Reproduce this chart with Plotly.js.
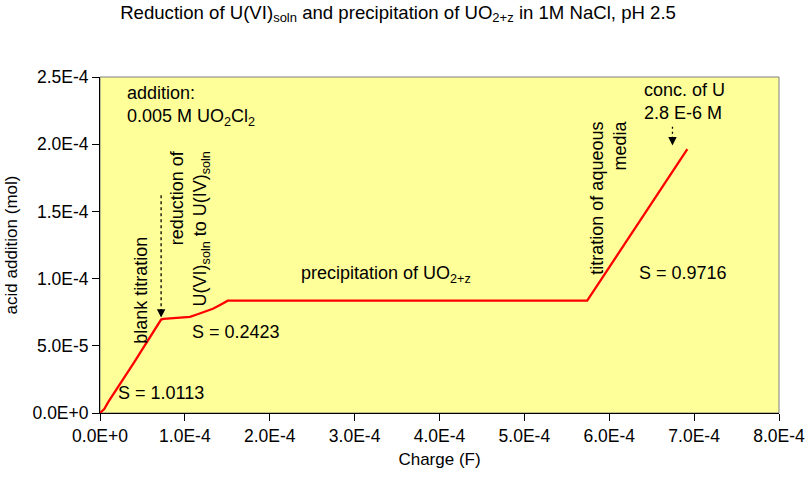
<!DOCTYPE html>
<html>
<head>
<meta charset="utf-8">
<script src="https://cdn.plot.ly/plotly-3.0.1.min.js"></script>
<style>
  html, body { margin: 0; padding: 0; background: #fff; }
  #chart { width: 809px; height: 483px; }
</style>
</head>
<body>
<div id="chart"></div>
<script>
// charge passed (F) and acid added (mol)
var charge = [0, 0.5e-5, 1.0e-5, 2.0e-5, 3.0e-5, 4.0e-5, 5.0e-5, 6.0e-5, 6.6e-5, 7.2e-5,
              7.5e-5, 8.0e-5, 9.0e-5, 1.0e-4, 1.06e-4, 1.15e-4, 1.25e-4, 1.33e-4, 1.42e-4, 1.505e-4,
              2.0e-4, 2.5e-4, 3.0e-4, 3.5e-4, 4.0e-4, 4.5e-4, 5.0e-4, 5.5e-4, 5.74e-4,
              5.9e-4, 6.1e-4, 6.3e-4, 6.5e-4, 6.7e-4, 6.92e-4];
var acid = [0, 0.3e-5, 0.85e-5, 1.8e-5, 2.78e-5, 3.75e-5, 4.75e-5, 5.75e-5, 6.35e-5, 6.95e-5,
            7.0e-5, 7.02e-5, 7.1e-5, 7.1e-5, 7.15e-5, 7.35e-5, 7.6e-5, 7.76e-5, 8.05e-5, 8.36e-5,
            8.36e-5, 8.36e-5, 8.36e-5, 8.36e-5, 8.36e-5, 8.36e-5, 8.36e-5, 8.36e-5, 8.36e-5,
            9.89e-5, 11.8e-5, 13.71e-5, 15.62e-5, 17.53e-5, 19.63e-5];

var xTickVals = [0, 1e-4, 2e-4, 3e-4, 4e-4, 5e-4, 6e-4, 7e-4, 8e-4];
var xTickText = ['0.0E+0', '1.0E-4', '2.0E-4', '3.0E-4', '4.0E-4', '5.0E-4', '6.0E-4', '7.0E-4', '8.0E-4'];
var yTickVals = [0, 5e-5, 1e-4, 1.5e-4, 2e-4, 2.5e-4];
var yTickText = ['0.0E+0', '5.0E-5', '1.0E-4', '1.5E-4', '2.0E-4', '2.5E-4'];

var FONT = 'Liberation Sans, Arial, sans-serif';
var annFont = {family: FONT, size: 18, color: '#000'};

var layout = {
  width: 809,
  height: 483,
  paper_bgcolor: '#ffffff',
  plot_bgcolor: '#ffff99',
  showlegend: false,
  margin: {l: 100, r: 30, t: 77, b: 70},
  title: {
    text: 'Reduction of U(VI)<sub>soln</sub> and precipitation of UO<sub>2+z</sub> in 1M NaCl, pH 2.5',
    font: {family: FONT, size: 18.6, color: '#000'},
    xref: 'paper',
    x: 0.439,
    xanchor: 'center',
    yref: 'container',
    y: 0.975,
    yanchor: 'middle'
  },
  xaxis: {
    range: [0, 8e-4],
    tickvals: xTickVals,
    ticktext: xTickText,
    ticks: 'outside',
    ticklen: 7,
    tickcolor: '#000',
    showgrid: false,
    zeroline: false,
    showline: true,
    linecolor: '#000',
    linewidth: 1,
    tickfont: {family: FONT, size: 17.5, color: '#000'},
    title: {
      text: 'Charge (F)',
      font: {family: FONT, size: 17, color: '#000'},
      standoff: 8
    }
  },
  yaxis: {
    range: [0, 2.5e-4],
    tickvals: yTickVals,
    ticktext: yTickText,
    ticks: 'outside',
    ticklen: 7,
    tickcolor: '#000',
    showgrid: false,
    zeroline: false,
    showline: true,
    linecolor: '#000',
    linewidth: 1,
    tickfont: {family: FONT, size: 17.5, color: '#000'},
    title: {
      text: 'acid addition (mol)',
      font: {family: FONT, size: 17, color: '#000'},
      standoff: 10
    }
  },
  shapes: [
    // grey frame on the top and right of the plot area
    {type: 'rect', xref: 'paper', yref: 'paper', x0: 0, x1: 1, y0: 0, y1: 1,
     line: {color: '#808080', width: 1}, layer: 'below'},
    // dashed leader lines of the two arrows
    {type: 'line', xref: 'x', yref: 'y', x0: 7.2e-5, x1: 7.2e-5, y0: 1.62e-4, y1: 7.6e-5,
     line: {color: '#000', width: 1.3, dash: '3px,3px'}},
    {type: 'line', xref: 'x', yref: 'y', x0: 6.745e-4, x1: 6.745e-4, y0: 2.13e-4, y1: 2.03e-4,
     line: {color: '#000', width: 1.3, dash: '2px,3px'}}
  ],
  annotations: [
    {text: 'addition:<br>0.005 M UO<sub>2</sub>Cl<sub>2</sub>', x: 2.89e-5, y: 2.285e-4,
     xanchor: 'left', yanchor: 'middle', align: 'left', showarrow: false, font: annFont},
    {text: 'blank titration', x: 4.85e-5, y: 9.1e-5, textangle: -90,
     xanchor: 'center', yanchor: 'middle', showarrow: false, font: annFont},
    {text: 'reduction of<br>U(VI)<sub>soln</sub> to U(IV)<sub>soln</sub>', x: 1.054e-4, y: 1.972e-4,
     textangle: -90, xanchor: 'center', yanchor: 'top', align: 'right', showarrow: false, font: annFont},
    {text: 'S = 1.0113', x: 7.24e-5, y: 1.52e-5, showarrow: false, font: annFont},
    {text: 'S = 0.2423', x: 1.608e-4, y: 6.05e-5, showarrow: false, font: annFont},
    {text: 'precipitation of UO<sub>2+z</sub>', x: 3.374e-4, y: 1.029e-4, showarrow: false, font: annFont},
    {text: 'titration of aqueous<br>media', x: 5.994e-4, y: 2.188e-4, textangle: -90,
     xanchor: 'center', yanchor: 'top', align: 'right', showarrow: false, font: annFont},
    {text: 'conc. of U<br>2.8 E-6 M', x: 6.386e-4, y: 2.317e-4,
     xanchor: 'left', yanchor: 'middle', align: 'left', showarrow: false, font: annFont},
    {text: 'S = 0.9716', x: 6.87e-4, y: 1.04e-4, showarrow: false, font: annFont},
    // arrow heads
    {text: '', x: 7.2e-5, y: 7.1e-5, showarrow: true, arrowhead: 2, arrowsize: 1.3,
     arrowwidth: 1.3, arrowcolor: '#000', ax: 0, ay: -10},
    {text: '', x: 6.745e-4, y: 1.99e-4, showarrow: true, arrowhead: 2, arrowsize: 1.3,
     arrowwidth: 1.3, arrowcolor: '#000', ax: 0, ay: -8}
  ]
};

var config = {displayModeBar: false, staticPlot: true};

Plotly.newPlot('chart', [{
    x: charge,
    y: acid,
    type: 'scatter',
    mode: 'lines',
    line: {color: '#ff0000', width: 2.3}
}], layout, config);
</script>
</body>
</html>
